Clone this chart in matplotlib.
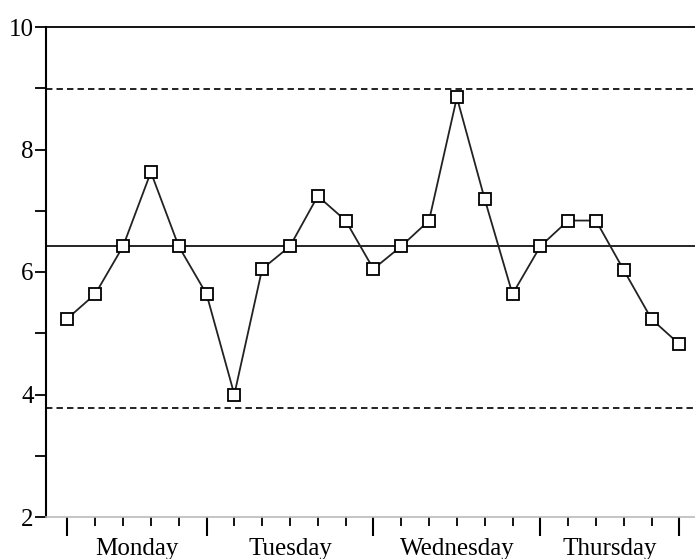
import numpy as np
from matplotlib import pyplot as plt
from matplotlib.ticker import FixedLocator

# readings, one per tick
values = [5.24, 5.64, 6.42, 7.63, 6.42, 5.64, 4.0, 6.05, 6.42, 7.24, 6.84, 6.05,
          6.42, 6.84, 8.85, 7.19, 5.64, 6.42, 6.84, 6.84, 6.03, 5.23, 4.82]
days = ['Monday', 'Tuesday', 'Wednesday', 'Thursday']
day_edges = [0, 5, 11, 17, 22]
centre = 6.42
ucl = 8.98
lcl = 3.78

plt.rcParams['font.family'] = ['Liberation Serif', 'DejaVu Serif']

fig = plt.figure(figsize=(6.95, 5.59), dpi=100)
ax = fig.add_axes([46/695, 42/559, 1 - 46/695, 490/559])

x = np.arange(len(values))

ax.axhline(centre, color='black', lw=1.2, zorder=1)
ax.axhline(ucl, color='#222222', lw=1.4, ls=(0, (3.3, 2.1)), zorder=1)
ax.axhline(lcl, color='#222222', lw=1.4, ls=(0, (3.3, 2.1)), zorder=1)

ax.plot(x, values, color='#222222', lw=1.3, marker='s', markersize=9,
        markerfacecolor='white', markeredgecolor='black', markeredgewidth=1.3, zorder=3)

ax.set_xlim(-0.77, 22.56)
ax.set_ylim(2, 10)

# y axis ticks
ax.set_yticks([2, 4, 6, 8, 10])
ax.yaxis.set_minor_locator(FixedLocator([3, 5, 7, 9]))
ax.tick_params(axis='y', which='both', direction='out', length=8, width=1.3, color='black',
               labelsize=18, pad=1)

# x axis ticks, long ones mark the days
ax.set_xticks(day_edges)
ax.xaxis.set_minor_locator(FixedLocator([i for i in x if i not in day_edges]))
ax.tick_params(axis='x', which='major', direction='out', length=14, width=1.5, color='black',
               labelbottom=False)
ax.tick_params(axis='x', which='minor', direction='out', length=6.5, width=1.3, color='black')

for i in range(len(days)):
    mid = (day_edges[i] + day_edges[i+1]) / 2
    ax.text(mid, -0.043, days[i], transform=ax.get_xaxis_transform(), ha='center', va='top',
            fontsize=18)

ax.spines['right'].set_visible(False)
ax.spines['top'].set_linewidth(1.3)
ax.spines['left'].set_linewidth(1.5)
ax.spines['bottom'].set_color('#bbbbbb')
ax.spines['bottom'].set_linewidth(1.2)

fig.savefig('out.png', dpi=100)
